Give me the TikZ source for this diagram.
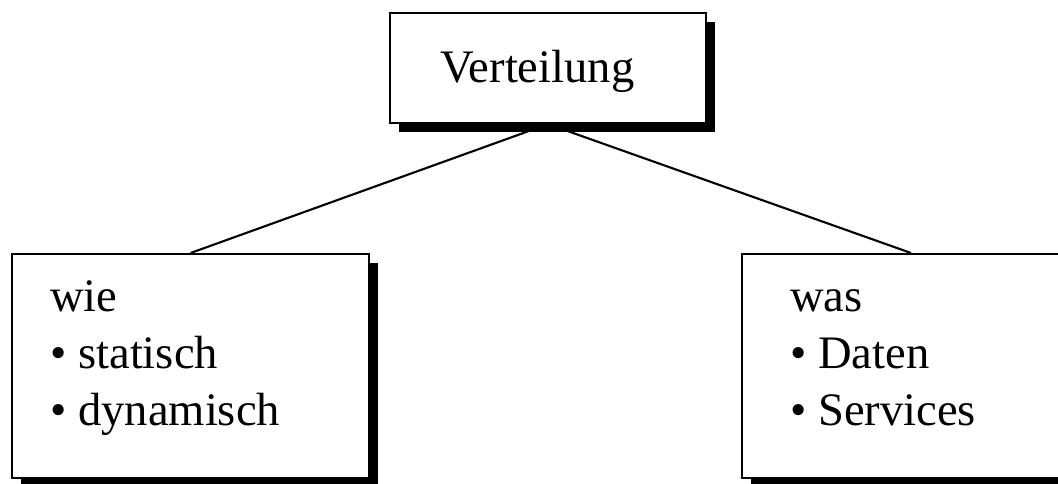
\documentclass[tikz,border=0pt]{standalone}
\usepackage{fontspec}
\setmainfont{Liberation Serif}
\usetikzlibrary{shadows}

\begin{document}
\begin{tikzpicture}[
                        box/.style={
                            draw,
                            line width=1.2pt,
                            fill=white,
                            drop shadow={shadow xshift=0.17cm,
                                         shadow yshift=-0.17cm,
                                         fill=black, opacity=1}
                        },
                        boxtext/.style={
                            anchor=base west,
                            inner sep=0pt,
                            align=left,
                            font=\fontsize{26.5pt}{32.4pt}\selectfont
                        },
                        link/.style={
                            draw,
                            line width=1.2pt
                        }
                    ]

                    \useasboundingbox (0,0) rectangle (21.16,-9.66);

                    % Verteilung (top, centred)
                    \node[box,
                        minimum width=6.32cm,
                        minimum height=2.2cm,
                        anchor=north west
                    ] (verteilung) at (7.78,-0.24) {};

                    \node[boxtext] (verteilungtext)
                        at ([xshift=1.02cm, yshift=-1.4cm] verteilung.north west)
                        {Verteilung};

                    % wie (bottom left), base sits on the last line
                    \node[box,
                        minimum width=7.14cm,
                        minimum height=4.48cm,
                        anchor=north west
                    ] (wie) at (0.22,-5.06) {};

                    \node[boxtext] (wietext)
                        at ([xshift=0.78cm, yshift=-3.44cm] wie.north west)
                        {wie\\\textbullet\ statisch\\\textbullet\ dynamisch};

                    % was (bottom right, runs off the edge)
                    \node[box,
                        minimum width=6.76cm,
                        minimum height=4.48cm,
                        anchor=north west
                    ] (was) at (14.82,-5.06) {};

                    \node[boxtext] (wastext)
                        at ([xshift=0.98cm, yshift=-3.44cm] was.north west)
                        {was\\\textbullet\ Daten\\\textbullet\ Services};

                    % links from the top box
                    \path[link] (verteilung.south) -- (wie.north);
                    \path[link] (verteilung.south) -- (was.north);
                    \end{tikzpicture}
\end{document}
